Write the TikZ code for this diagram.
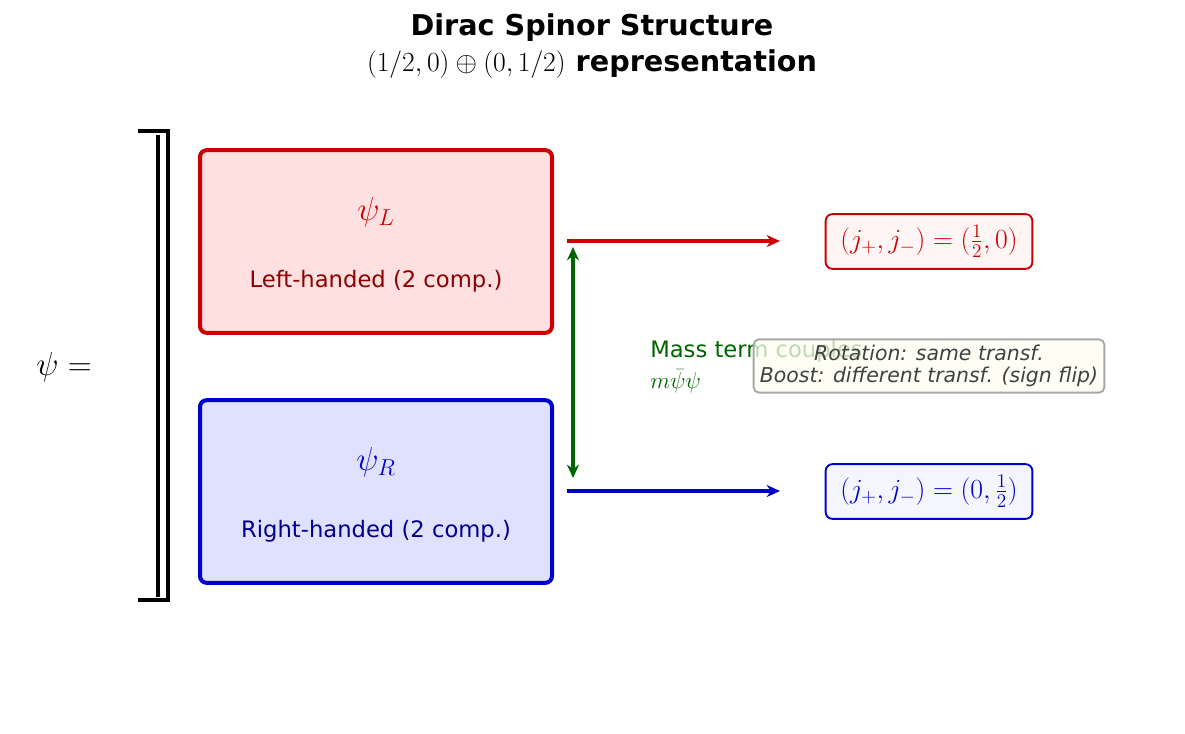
\documentclass[tikz,border=0pt]{standalone}
\usepackage{fontspec}
\setmainfont{DejaVu Sans}
\usepackage{amsmath}
\usetikzlibrary{arrows.meta}
\definecolor{dred}{HTML}{CC0000}
\definecolor{dblue}{HTML}{0000CC}
\definecolor{dgreen}{HTML}{006400}
\tikzset{
 main/.style={draw, line width=3pt, rounded corners=5pt},
 tag/.style={draw, line width=1.4pt, rounded corners=5pt, minimum width=155pt, minimum height=41pt, font=\fontsize{20}{22}\selectfont},
 arr/.style={line width=2.7pt, -{Stealth[length=10pt,width=9pt]}},
}
\begin{document}
\begin{tikzpicture}[x=0.75pt,y=-0.75pt]
\useasboundingbox (0,0) rectangle (1185,733);
\node[font=\bfseries\fontsize{21.5}{24}\selectfont] (t1) at (592,28) {Dirac Spinor Structure};
\node[font=\bfseries\fontsize{21.5}{24}\selectfont] (t2) at (592,64) {$(1/2,0)\oplus(0,1/2)$ representation};
\node[font=\fontsize{32}{34}\selectfont] (psi) at (64,367) {$\psi =$};
\draw[line width=3.2pt] (138,131) -- (168,131) -- (168,600) -- (138,600);
\draw[line width=3.2pt] (158,135) -- (158,597);
\node[main, draw=dred, fill=red!12, minimum width=264pt, minimum height=137pt] (L) at (376,241.5) {};
\node[text=dred, font=\fontsize{27}{29}\selectfont] (Lt) at (376,212) {$\psi_L$};
\node[text=red!55!black, font=\fontsize{17}{20}\selectfont] (Ls) at (376,281) {Left-handed (2 comp.)};
\node[main, draw=dblue, fill=blue!12, minimum width=264pt, minimum height=137pt] (R) at (376,491.5) {};
\node[text=dblue, font=\fontsize{27}{29}\selectfont] (Rt) at (376,462) {$\psi_R$};
\node[text=blue!55!black, font=\fontsize{17}{20}\selectfont] (Rs) at (376,531) {Right-handed (2 comp.)};
\coordinate (a1) at (567,241); \coordinate (a2) at (780,241);
\coordinate (b1) at (567,491); \coordinate (b2) at (780,491);
\coordinate (g1) at (573,247); \coordinate (g2) at (573,478);
\draw[arr, dred] (a1) -- (a2);
\draw[arr, dblue] (b1) -- (b2);
\draw[arr, dgreen, {Stealth[length=10pt,width=9pt]}-{Stealth[length=10pt,width=9pt]}] (g1) -- (g2);
\node[tag, draw=red!80!black, fill=red!4, text=dred] (jL) at (929,241.5) {$(j_+,j_-)=(\frac12,0)$};
\node[tag, draw=blue!80!black, fill=blue!4, text=dblue] (jR) at (929,491.5) {$(j_+,j_-)=(0,\frac12)$};
\node[anchor=west, text=dgreen, font=\fontsize{17}{20}\selectfont, inner sep=0] (m1) at (650,351) {Mass term couples};
\node[anchor=west, text=dgreen, font=\fontsize{17}{20}\selectfont, inner sep=0] (m2) at (650,381) {$m\bar\psi\psi$};
\node[draw=black!35, line width=1.4pt, rounded corners=4pt, fill=yellow!5, fill opacity=0.75, text opacity=1, text=black!75, align=center, minimum width=263pt, minimum height=40pt, inner sep=2pt, font=\itshape\fontsize{15.3}{17}\selectfont] (note) at (929,366) {Rotation: same transf.\\Boost: different transf. (sign flip)};
\end{tikzpicture}
\end{document}
